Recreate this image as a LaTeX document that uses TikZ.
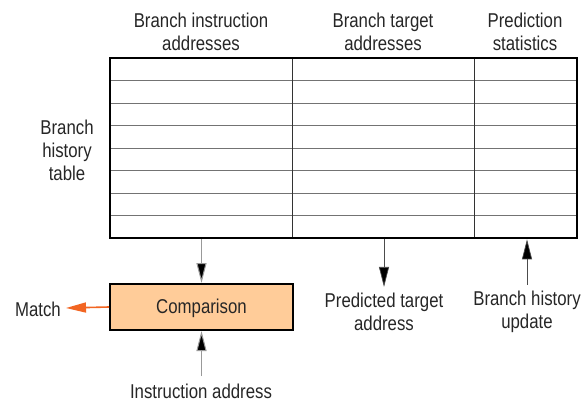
\documentclass[tikz,border=0pt]{standalone}
\usepackage{fontspec}
\setmainfont{Liberation Sans}[FakeStretch=0.84]
\usetikzlibrary{arrows.meta}
\definecolor{cmpfill}{HTML}{FFCC99}
\definecolor{matchorange}{HTML}{F26522}
\tikzset{
  lbl/.style={font=\fontsize{20}{23}\selectfont, align=center, inner sep=0pt, text=black!85},
  rowline/.style={draw=black!55, line width=0.9pt},
  colline/.style={draw=black!80, line width=0.7pt},
  headtip/.style={-{Triangle[length=20pt,width=10pt,fill=black]}},
  feed/.style={draw=black!40, line width=1pt, headtip},
  feeddark/.style={draw=black!70, line width=0.7pt, headtip},
}
\begin{document}
\begin{tikzpicture}[x=1pt,y=1pt]
\useasboundingbox (0,0) rectangle (585,-403);
% table rows and columns
\foreach \y in {80.5,103,125.5,148,170.5,193,215.5}
  \draw[rowline] (110,-\y) -- (577,-\y);
\draw[colline] (292,-58) -- (292,-238);
\draw[colline] (474,-58) -- (474,-238);
\node[draw=black, line width=2.6pt, minimum width=467pt, minimum height=180pt, inner sep=0pt] (bht) at (343.5,-148) {};
% column headings
\node[lbl] (h1) at (201,-32) {Branch instruction\\addresses};
\node[lbl] (h2) at (383,-32) {Branch target\\addresses};
\node[lbl] (h3) at (525,-32) {Prediction\\statistics};
\node[lbl] (side) at (67,-150) {Branch\\history\\table};
% comparison unit
\node[draw=black, line width=2pt, fill=cmpfill, minimum width=183pt, minimum height=46pt, inner sep=0pt] (cmp) at (201.5,-307) {};
\node[lbl] (cmptext) at (cmp.center) [yshift=-1.5pt] {Comparison};
\node[lbl, anchor=east] (match) at (61,-309) {Match};
\node[lbl] (iaddr) at (201,-391) {Instruction address};
\node[lbl] (pta) at (384,-312) {Predicted target\\address};
\node[lbl] (bhu) at (527,-312) {Branch history\\update};
% connectors
\draw[feed] (bht.south -| cmp.north) -- (cmp.north);
\coordinate (iin) at (201.5,-376);
\draw[feed] (iin) -- (cmp.south);
\coordinate (mout) at (66,-308);
\draw[draw=matchorange, line width=1.6pt, -{Triangle[length=20pt,width=10pt]}] (cmp.west) -- (mout);
\draw[feeddark] (bht.south -| pta.north) -- ([yshift=6pt]pta.north);
\draw[feeddark] ([yshift=6pt]bhu.north) -- (bht.south -| bhu.north);
\end{tikzpicture}
\end{document}
